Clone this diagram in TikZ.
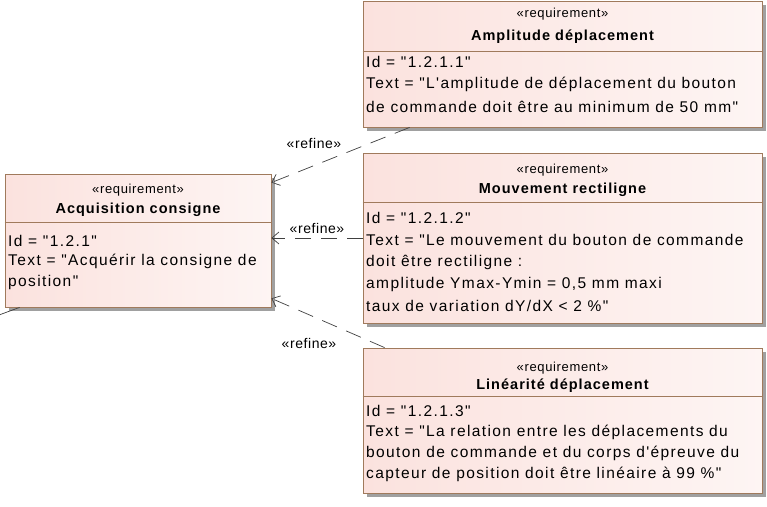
\documentclass[tikz,border=0pt]{standalone}
\usepackage{fontspec}
\setmainfont{Liberation Sans}[Ligatures=TeXOff]
\usetikzlibrary{arrows.meta,calc}
\definecolor{boxborder}{RGB}{160,122,92}
\definecolor{boxpink}{RGB}{251,226,222}
\definecolor{shadowgray}{RGB}{160,160,160}
\newcommand{\myq}{\symbol{34}}
\newcommand{\myap}{\symbol{39}}
\begin{document}
\begin{tikzpicture}[x=1pt,y=-1pt,
  reqbox/.style={draw=boxborder, line width=0.8pt, rectangle, inner sep=0pt,
     left color=boxpink, right color=boxpink!35!white},
  stereo/.style={font=\fontsize{13}{15}\selectfont\addfontfeature{LetterSpace=5}, inner sep=0pt},
  title/.style={font=\fontsize{14.5}{17}\bfseries\addfontfeature{LetterSpace=7}, inner sep=0pt},
  body/.style={font=\fontsize{15.5}{22}\selectfont\addfontfeature{LetterSpace=9}, anchor=west, inner sep=0pt, align=left},
  divider/.style={draw=boxborder, line width=0.8pt},
  refine/.style={draw=black!75, line width=0.7pt, dash pattern=on 16pt off 10pt,
     -{Straight Barb[length=7pt,width=12pt,line width=0.7pt]}},
  lbl/.style={font=\fontsize{14}{16}\selectfont\addfontfeature{LetterSpace=4}, inner sep=0pt}]
\useasboundingbox (0,0) rectangle (767,506);

% shadows
\fill[shadowgray] (9,178) rectangle (275,311);
\fill[shadowgray] (367,5) rectangle (766,131);
\fill[shadowgray] (367,157) rectangle (766,327);
\fill[shadowgray] (367,352) rectangle (766,497);

% boxes
\node[reqbox, minimum width=266pt, minimum height=133pt] (acq) at (138,240.5) {};
\node[reqbox, minimum width=399pt, minimum height=126pt] (amp) at (562.5,64) {};
\node[reqbox, minimum width=399pt, minimum height=170pt] (mou) at (562.5,238) {};
\node[reqbox, minimum width=399pt, minimum height=145pt] (lin) at (562.5,420.5) {};

% dividers
\draw[divider] (acq.west |- 0,222) -- (acq.east |- 0,222);
\draw[divider] (amp.west |- 0,51) -- (amp.east |- 0,51);
\draw[divider] (mou.west |- 0,202) -- (mou.east |- 0,202);
\draw[divider] (lin.west |- 0,396) -- (lin.east |- 0,396);

% Acquisition consigne
\node[stereo] (acqs) at (138,190) {«requirement»};
\node[title] (acqt) at (138,210) {Acquisition consigne};
\node[body] (acqb1) at (8,241) {Id = \myq1.2.1\myq};
\node[body] (acqb2) at (8,261) {Text = \myq Acquérir la consigne de};
\node[body] (acqb3) at (8,282) {position\myq};

% Amplitude deplacement
\node[stereo] (amps) at (562.5,14) {«requirement»};
\node[title] (ampt) at (562.5,37) {Amplitude déplacement};
\node[body] (ampb1) at (366,62) {Id = \myq1.2.1.1\myq};
\node[body] (ampb2) at (366,84) {Text = \myq L\myap amplitude de déplacement du bouton};
\node[body] (ampb3) at (366,107) {de commande doit être au minimum de 50 mm\myq};

% Mouvement rectiligne
\node[stereo] (mous) at (562.5,170) {«requirement»};
\node[title] (mout) at (562.5,190) {Mouvement rectiligne};
\node[body] (moub1) at (366,218) {Id = \myq1.2.1.2\myq};
\node[body] (moub2) at (366,240) {Text = \myq Le mouvement du bouton de commande};
\node[body] (moub3) at (366,262) {doit être rectiligne :};
\node[body] (moub4) at (366,284) {amplitude Ymax-Ymin = 0,5 mm maxi};
\node[body] (moub5) at (366,306) {taux de variation dY/dX < 2 \%\myq};

% Linearite deplacement
\node[stereo] (lins) at (562.5,368) {«requirement»};
\node[title] (lint) at (562.5,386) {Linéarité déplacement};
\node[body] (linb1) at (366,411) {Id = \myq1.2.1.3\myq};
\node[body] (linb2) at (366,432) {Text = \myq La relation entre les déplacements du};
\node[body] (linb3) at (366,453) {bouton de commande et du corps d\myap épreuve du};
\node[body] (linb4) at (366,474) {capteur de position doit être linéaire à 99 \%\myq};

% connectors
\draw[refine] ([xshift=47pt]amp.south west) -- ([yshift=-9pt]acq.north east);
\draw[refine] (mou.west) -- (acq.east |- mou.west);
\draw[refine] ([xshift=22pt]lin.north west) -- ([yshift=9pt]acq.south east);

\node[lbl] (r1) at (314,143) {«refine»};
\node[lbl] (r2) at (317,228) {«refine»};
\node[lbl] (r3) at (309,343) {«refine»};

% partial line at bottom left
\coordinate (offl) at (-1,315);
\draw[black!75, line width=0.7pt] ([xshift=15pt]acq.south west) -- (offl);
\end{tikzpicture}
\end{document}
